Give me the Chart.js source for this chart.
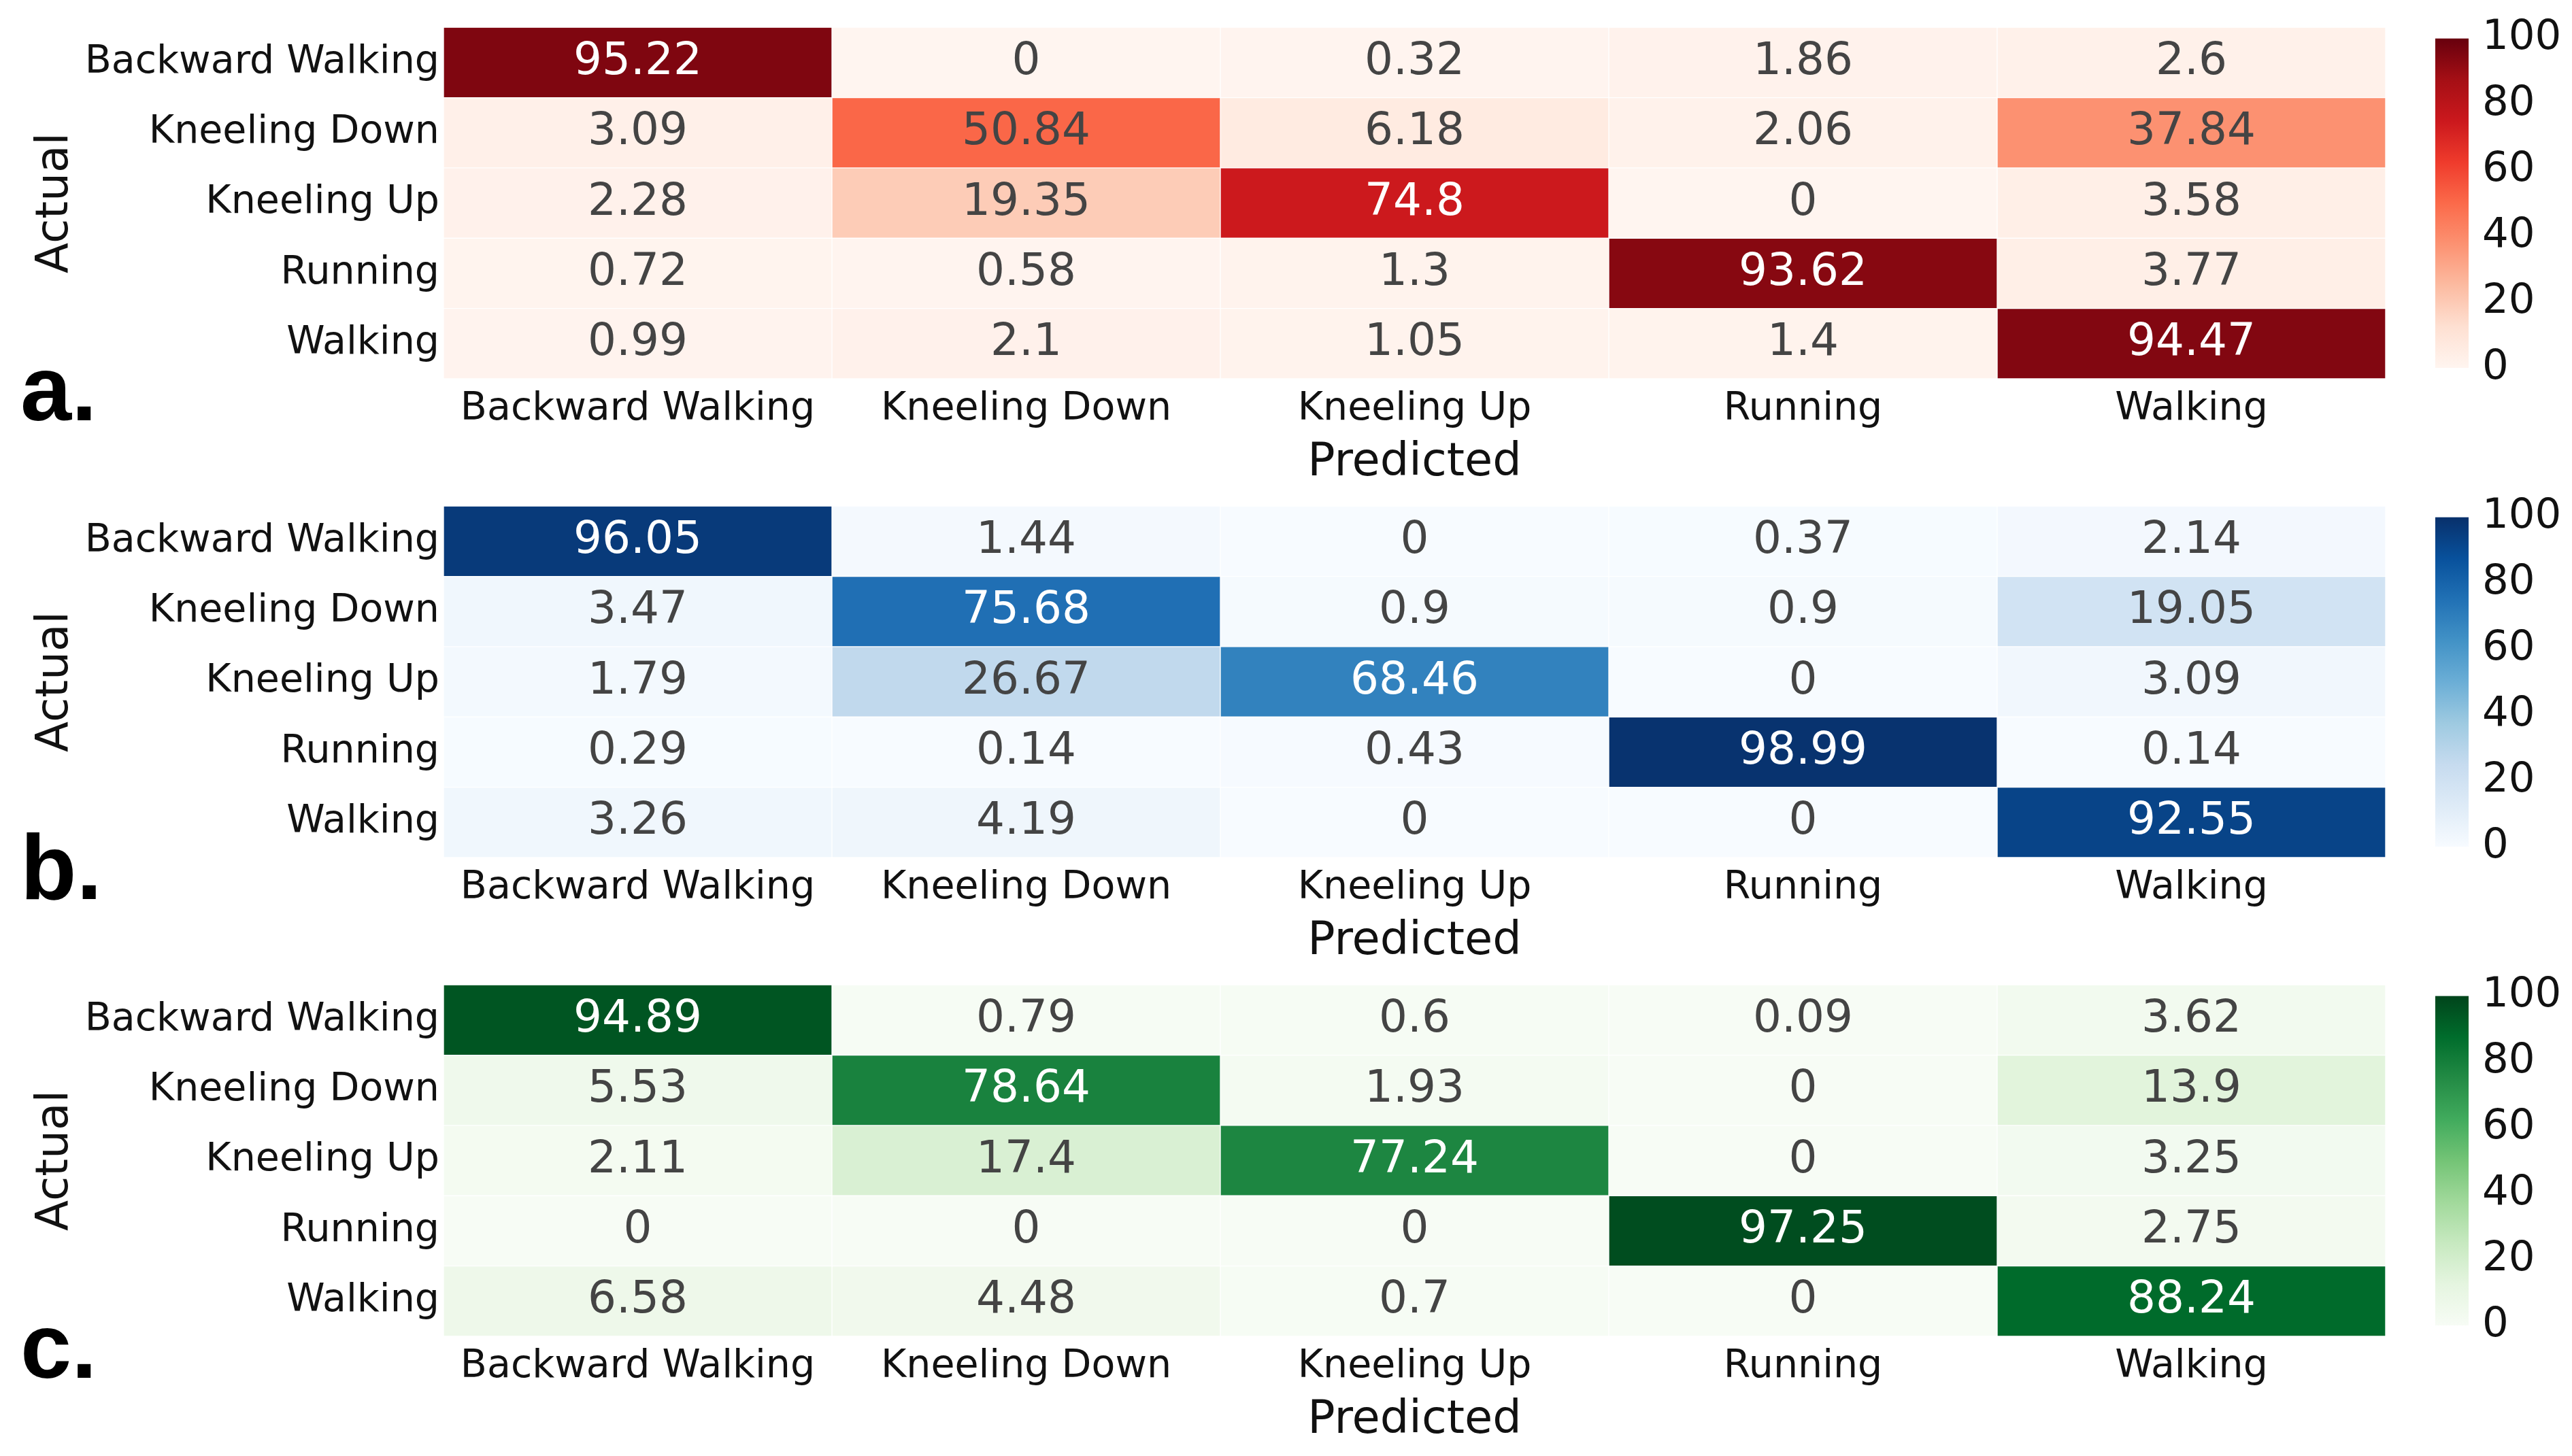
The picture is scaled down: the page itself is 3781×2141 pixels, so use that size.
<!DOCTYPE html>
<html>
<head>
<meta charset="utf-8">
<title>Confusion matrices</title>
<script src="https://cdn.jsdelivr.net/npm/chart.js@4.4.1/dist/chart.umd.min.js"></script>
<style>
  html, body { margin: 0; padding: 0; background: #fff; overflow: hidden; }
  #wrap { position: relative; width: 3781px; height: 2141px; }
  canvas { position: absolute; }
</style>
</head>
<body>
<div id="wrap">
  <canvas id="heatA" width="3781" height="760" style="left:0;top:0"></canvas>
  <canvas id="barA" width="281" height="600" style="left:3500px;top:0"></canvas>
  <canvas id="heatB" width="3781" height="760" style="left:0;top:704px"></canvas>
  <canvas id="barB" width="281" height="600" style="left:3500px;top:704px"></canvas>
  <canvas id="heatC" width="3781" height="760" style="left:0;top:1408px"></canvas>
  <canvas id="barC" width="281" height="600" style="left:3500px;top:1408px"></canvas>
</div>
<script>
// classes (rows = actual, columns = predicted)
const classes = ['Backward Walking', 'Kneeling Down', 'Kneeling Up', 'Running', 'Walking']
const colorbarTicks = [0, 20, 40, 60, 80, 100]

// panel a
const valuesA = [
    [95.22, 0, 0.32, 1.86, 2.6],
    [3.09, 50.84, 6.18, 2.06, 37.84],
    [2.28, 19.35, 74.8, 0, 3.58],
    [0.72, 0.58, 1.3, 93.62, 3.77],
    [0.99, 2.1, 1.05, 1.4, 94.47]
]
// panel b
const valuesB = [
    [96.05, 1.44, 0, 0.37, 2.14],
    [3.47, 75.68, 0.9, 0.9, 19.05],
    [1.79, 26.67, 68.46, 0, 3.09],
    [0.29, 0.14, 0.43, 98.99, 0.14],
    [3.26, 4.19, 0, 0, 92.55]
]
// panel c
const valuesC = [
    [94.89, 0.79, 0.6, 0.09, 3.62],
    [5.53, 78.64, 1.93, 0, 13.9],
    [2.11, 17.4, 77.24, 0, 3.25],
    [0, 0, 0, 97.25, 2.75],
    [6.58, 4.48, 0.7, 0, 88.24]
]

const REDS = ['#fff5f0', '#fee0d2', '#fcbba1', '#fc9272', '#fb6a4a', '#ef3b2c', '#cb181d', '#a50f15', '#67000d']
const BLUES = ['#f7fbff', '#deebf7', '#c6dbef', '#9ecae1', '#6baed6', '#4292c6', '#2171b5', '#08519c', '#08306b']
const GREENS = ['#f7fcf5', '#e5f5e0', '#c7e9c0', '#a1d99b', '#74c476', '#41ab5d', '#238b45', '#006d2c', '#00441b']

Chart.defaults.font.family = '"DejaVu Sans", Verdana, sans-serif'

const hexRgb = h => [1, 3, 5].map(i => parseInt(h.substr(i, 2), 16))

// value 0..100 -> colour on the scale
const colorAt = (cmap, v) => {
    const t = Math.max(0, Math.min(1, v / 100)) * (cmap.length - 1)
    const i = Math.min(Math.floor(t), cmap.length - 2)
    const f = t - i
    const a = hexRgb(cmap[i]), b = hexRgb(cmap[i + 1])
    const c = a.map((x, k) => Math.round(x + (b[k] - x) * f))
    return `rgb(${c[0]},${c[1]},${c[2]})`
}

const textColor = rgb => {
    const c = rgb.match(/\d+/g).map(Number)
    const bright = (c[0] * 299 + c[1] * 587 + c[2] * 114) / 1000
    return bright < 128 ? '#ffffff' : '#444444'
}

const cellText = {
    id: 'cellText',
    afterDatasetsDraw(chart) {
        const ctx = chart.ctx
        ctx.save()
        ctx.font = '66px "DejaVu Sans"'
        ctx.textAlign = 'center'
        ctx.textBaseline = 'middle'
        chart.data.datasets.forEach((ds, j) => {
            chart.getDatasetMeta(j).data.forEach((bar, i) => {
                ctx.fillStyle = textColor(ds.backgroundColor[i])
                ctx.fillText(String(ds.cellValues[i]), (bar.x + bar.base) / 2, bar.y)
            })
        })
        ctx.restore()
    }
}

const panelLetter = {
    id: 'panelLetter',
    afterDraw(chart, args, opts) {
        const ctx = chart.ctx
        ctx.save()
        ctx.font = 'bold 135px "Liberation Sans Narrow", "Liberation Sans", Arial, sans-serif'
        ctx.fillStyle = '#000'
        ctx.textAlign = 'left'
        ctx.textBaseline = 'alphabetic'
        ctx.fillText(opts.text, 30, 618)
        ctx.restore()
    }
}

function makeHeatmap(id, values, cmap, letter) {
    const datasets = classes.map((col, j) => ({
        label: col,
        data: classes.map(() => 1),
        cellValues: values.map(row => row[j]),
        backgroundColor: values.map(row => colorAt(cmap, row[j])),
        borderColor: 'rgba(255,255,255,0.45)',
        borderWidth: 1,
        borderSkipped: false,
        barPercentage: 1,
        categoryPercentage: 1
    }))

    return new Chart(document.getElementById(id), {
        type: 'bar',
        data: { labels: classes, datasets: datasets },
        options: {
            indexAxis: 'y',
            responsive: false,
            animation: false,
            layout: { padding: { top: 31, right: 274, left: 0, bottom: 0 } },
            plugins: {
                legend: { display: false },
                tooltip: { enabled: false },
                panelLetter: { text: letter }
            },
            scales: {
                x: {
                    type: 'linear',
                    stacked: true,
                    min: 0,
                    max: 5,
                    grid: { display: false, drawTicks: false },
                    border: { display: false },
                    afterBuildTicks: s => { s.ticks = classes.map((c, k) => ({ value: k + 0.5 })) },
                    afterFit: s => { s.height = 203 },
                    ticks: {
                        autoSkip: false,
                        maxRotation: 0,
                        padding: 11,
                        color: '#111',
                        font: { size: 57 },
                        callback: (v, k) => classes[k]
                    },
                    title: {
                        display: true,
                        text: 'Predicted',
                        color: '#111',
                        font: { size: 67 },
                        padding: { top: 0, bottom: 38 }
                    }
                },
                y: {
                    stacked: true,
                    grid: { display: false, drawTicks: false },
                    border: { display: false },
                    afterFit: s => { s.width = 652 },
                    ticks: { padding: 6, color: '#111', font: { size: 57 } },
                    title: {
                        display: true,
                        text: 'Actual',
                        color: '#111',
                        font: { size: 66 },
                        padding: { top: 42, bottom: 0 }
                    }
                }
            }
        },
        plugins: [cellText, panelLetter]
    })
}

function makeColorbar(id, cmap) {
    return new Chart(document.getElementById(id), {
        type: 'bar',
        data: {
            labels: [''],
            datasets: [{
                data: [colorbarTicks[colorbarTicks.length - 1]],
                backgroundColor: c => {
                    const a = c.chart.chartArea
                    if (!a) return cmap[0]
                    const g = c.chart.ctx.createLinearGradient(0, a.bottom, 0, a.top)
                    cmap.forEach((col, k) => g.addColorStop(k / (cmap.length - 1), col))
                    return g
                },
                borderWidth: 0,
                barPercentage: 1,
                categoryPercentage: 1
            }]
        },
        options: {
            responsive: false,
            animation: false,
            layout: { padding: { left: 80, top: 48, bottom: 59, right: 0 } },
            plugins: { legend: { display: false }, tooltip: { enabled: false } },
            scales: {
                x: { display: false },
                y: {
                    position: 'right',
                    min: 0,
                    max: 100,
                    afterBuildTicks: s => { s.ticks = colorbarTicks.map(v => ({ value: v })) },
                    afterFit: s => { s.width = 152 },
                    grid: { display: false, drawTicks: false },
                    border: { display: false },
                    ticks: { padding: 20, color: '#111', font: { size: 61 } }
                }
            }
        }
    })
}

makeHeatmap('heatA', valuesA, REDS, 'a.')
makeColorbar('barA', REDS)
makeHeatmap('heatB', valuesB, BLUES, 'b.')
makeColorbar('barB', BLUES)
makeHeatmap('heatC', valuesC, GREENS, 'c.')
makeColorbar('barC', GREENS)
</script>
</body>
</html>
